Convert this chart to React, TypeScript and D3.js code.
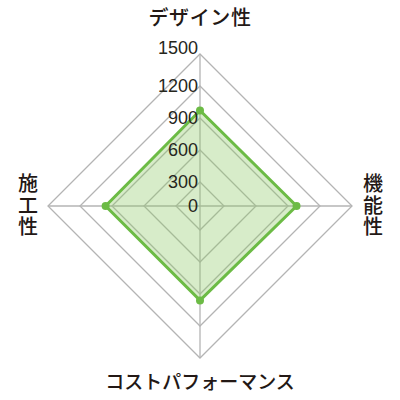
import React from 'react';
import * as d3 from 'd3';

const AXES = ['デザイン性', '機能性', 'コストパフォーマンス', '施工性'];
const VALUES = [970, 980, 960, 960];
const TICKS = [0, 300, 600, 900, 1200, 1500];

const WIDTH = 400;
const HEIGHT = 400;
const CX = 200;
const CY = 206;

const JP_FONT = "'Noto Sans CJK JP', 'Noto Sans', sans-serif";
const NUM_FONT = "'Liberation Sans', 'DejaVu Sans', sans-serif";

export default function App() {
  const svgRef = React.useRef<SVGSVGElement>(null);

  React.useEffect(() => {
    const svg = d3.select(svgRef.current);
    svg.selectAll('*').remove();

    // the inner step is shorter than the others in the original
    const rScale = d3.scaleLinear().domain([0, 300, 1500]).range([0, 24, 152]);
    const angle = d3.scalePoint<string>()
      .domain(AXES)
      .range([0, (2 * Math.PI * (AXES.length - 1)) / AXES.length]);

    const point = (name: string, v: number): [number, number] => {
      const a = (angle(name) ?? 0) - Math.PI / 2;
      return [Math.cos(a) * rScale(v), Math.sin(a) * rScale(v)];
    };

    const g = svg.append('g').attr('transform', `translate(${CX}, ${CY})`);

    const line = d3.line<[number, number]>().curve(d3.curveLinearClosed);

    // grid rings
    TICKS.filter(t => t > 0).forEach(t => {
      g.append('path')
        .attr('d', line(AXES.map(a => point(a, t))))
        .attr('fill', 'none')
        .attr('stroke', '#b4b4b4')
        .attr('stroke-width', 1.3);
    });

    // spokes
    AXES.forEach(a => {
      const [x, y] = point(a, 1500);
      g.append('line')
        .attr('x1', 0).attr('y1', 0)
        .attr('x2', x).attr('y2', y)
        .attr('stroke', '#b4b4b4')
        .attr('stroke-width', 1.3);
    });

    const pts = AXES.map((a, i) => point(a, VALUES[i]));

    g.append('path')
      .attr('d', line(pts))
      .attr('fill', 'rgba(140, 200, 100, 0.35)')
      .attr('stroke', '#6cbb45')
      .attr('stroke-width', 3)
      .attr('stroke-linejoin', 'miter');

    pts.forEach(([x, y]) => {
      g.append('circle')
        .attr('cx', x).attr('cy', y)
        .attr('r', 4)
        .attr('fill', '#6cbb45');
    });

    // tick labels
    TICKS.forEach((t, i) => {
      const y = -rScale(t) - (i === TICKS.length - 1 ? 6 : 0);
      g.append('text')
        .attr('x', -2)
        .attr('y', y)
        .attr('text-anchor', 'end')
        .attr('dominant-baseline', 'central')
        .attr('font-family', NUM_FONT)
        .attr('font-size', 18)
        .attr('fill', '#26261c')
        .text(t);
    });

    // axis labels
    const labelFill = '#231815';
    svg.append('text')
      .attr('x', CX)
      .attr('y', 16)
      .attr('text-anchor', 'middle')
      .attr('dominant-baseline', 'central')
      .attr('font-family', JP_FONT)
      .attr('font-size', 20)
      .attr('font-weight', 500)
      .attr('letter-spacing', 0.6)
      .attr('fill', labelFill)
      .text(AXES[0]);

    svg.append('text')
      .attr('x', CX)
      .attr('y', 380)
      .attr('text-anchor', 'middle')
      .attr('dominant-baseline', 'central')
      .attr('font-family', JP_FONT)
      .attr('font-size', 19)
      .attr('font-weight', 500)
      .attr('fill', labelFill)
      .text(AXES[2]);

    // side labels are set vertically, one character under the other
    const vertical = (label: string, x: number) => {
      svg.append('text')
        .attr('x', x)
        .attr('y', CY)
        .attr('writing-mode', 'vertical-rl')
        .attr('text-anchor', 'middle')
        .attr('font-family', JP_FONT)
        .attr('font-size', 20)
        .attr('font-weight', 500)
        .attr('letter-spacing', 1.5)
        .attr('fill', labelFill)
        .text(label);
    };
    vertical(AXES[1], 373);
    vertical(AXES[3], 28);
  }, []);

  return (
    <div style={{ position: 'fixed', left: 0, top: 0, width: WIDTH, height: HEIGHT, background: '#fff' }}>
      <svg ref={svgRef} width={WIDTH} height={HEIGHT} />
    </div>
  );
}
